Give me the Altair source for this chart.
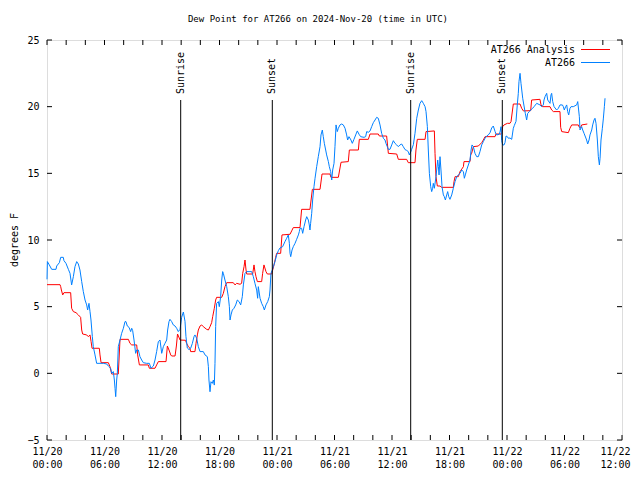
import altair as alt
import pandas as pd

# ---- data (hours since 2024-11-20 00:00 UTC) ----
obs_hours = [0.00, 0.04, 0.24, 0.49, 0.94, 1.01, 1.29, 1.43, 1.70, 1.77, 1.98, 2.23, 2.40, 2.57, 2.75, 2.92, 3.10, 3.27, 3.44, 3.62,
             3.79, 3.97, 4.14, 4.24, 4.38, 4.49, 4.59, 4.73, 4.83, 5.01, 5.18, 5.53, 5.88, 6.23, 6.40, 6.64, 6.75, 6.92, 7.03, 7.10,
             7.17, 7.27, 7.34, 7.44, 7.62, 7.79, 7.97, 8.14, 8.24, 8.38, 8.56, 8.73, 8.84, 8.94, 9.08, 9.25, 9.36, 9.53, 9.70, 9.88,
             10.05, 10.40, 10.68, 10.85, 11.10, 11.27, 11.44, 11.62, 11.79, 11.97, 12.14, 12.31, 12.49, 12.59, 12.73, 12.83, 13.01, 13.18, 13.36, 13.53,
             13.70, 13.88, 14.05, 14.23, 14.40, 14.50, 14.64, 14.82, 14.99, 15.17, 15.34, 15.44, 15.62, 15.79, 15.97, 16.31, 16.49, 16.73, 16.84, 16.90,
             17.01, 17.11, 17.25, 17.36, 17.46, 17.53, 17.60, 17.70, 17.88, 17.98, 18.12, 18.23, 18.33, 18.40, 18.57, 18.75, 18.92, 19.03, 19.10, 19.20,
             19.34, 19.51, 19.69, 19.86, 20.04, 20.21, 20.38, 20.49, 20.66, 20.84, 21.18, 21.36, 21.53, 21.70, 21.88, 21.98, 22.05, 22.23, 22.40, 22.57,
             22.68, 22.85, 23.03, 23.20, 23.27, 23.37, 23.51, 23.62, 23.79, 23.97, 24.14, 24.31, 24.59, 24.83, 25.01, 25.18, 25.29, 25.36, 25.43, 25.57,
             25.70, 25.88, 26.05, 26.23, 26.33, 26.40, 26.57, 26.68, 26.82, 26.99, 27.10, 27.27, 27.37, 27.44, 27.51, 27.62, 27.72, 27.86, 27.97, 28.14,
             28.31, 28.49, 28.59, 28.73, 28.83, 28.94, 29.08, 29.18, 29.36, 29.46, 29.60, 29.71, 29.81, 29.95, 30.05, 30.16, 30.29, 30.40, 30.57, 30.75,
             30.92, 31.10, 31.27, 31.37, 31.51, 31.72, 31.86, 32.03, 32.21, 32.38, 32.56, 32.73, 33.08, 33.25, 33.36, 33.53, 33.71, 33.88, 34.05, 34.23,
             34.40, 34.57, 34.75, 34.92, 35.10, 35.27, 35.37, 35.51, 35.62, 35.79, 35.97, 36.14, 36.31, 36.49, 36.66, 36.83, 37.01, 37.18, 37.36, 37.53,
             37.70, 37.81, 37.95, 38.05, 38.23, 38.40, 38.58, 38.75, 38.92, 39.10, 39.27, 39.45, 39.55, 39.69, 39.79, 39.90, 40.04, 40.14, 40.24, 40.31,
             40.42, 40.59, 40.66, 40.77, 40.84, 40.91, 41.01, 41.11, 41.22, 41.36, 41.46, 41.57, 41.71, 41.81, 41.92, 42.05, 42.23, 42.40, 42.58, 42.75,
             42.92, 43.10, 43.27, 43.45, 43.55, 43.65, 43.79, 44.14, 44.25, 44.35, 44.49, 44.66, 44.84, 45.01, 45.18, 45.36, 45.53, 45.71, 45.88, 46.05,
             46.23, 46.40, 46.57, 46.75, 46.85, 46.92, 47.17, 47.27, 47.38, 47.44, 47.55, 47.69, 47.79, 47.90, 48.04, 48.14, 48.31, 48.49, 48.66, 48.77,
             48.94, 49.08, 49.18, 49.25, 49.36, 49.46, 49.64, 49.91, 50.05, 50.16, 50.33, 50.47, 50.68, 50.82, 51.10, 51.44, 51.62, 51.79, 51.86, 51.97,
             52.14, 52.25, 52.49, 52.59, 52.66, 52.77, 52.91, 53.18, 53.36, 53.53, 53.78, 53.88, 53.98, 54.12, 54.23, 54.33, 54.44, 54.57, 54.68, 54.92,
             55.27, 55.38, 55.55, 55.62, 55.79, 55.90, 56.04, 56.31, 56.42, 56.56, 56.66, 56.84, 56.94, 57.08, 57.18, 57.29, 57.43, 57.53, 57.64, 57.71,
             57.81, 57.95, 58.05, 58.16, 58.23]
obs_values = [7.05, 8.38, 8.13, 7.80, 7.80, 8.05, 8.30, 8.70, 8.70, 8.45, 8.25, 7.80, 7.50, 6.63, 7.25, 8.00, 8.38, 8.20, 7.75, 6.88,
              6.13, 5.50, 5.13, 4.75, 5.25, 4.63, 4.00, 2.75, 2.00, 1.38, 0.75, 0.75, 0.75, 0.70, 0.55, 0.38, 0.00, 0.13, -0.50, -1.13,
              -1.75, -0.50, 0.00, 2.00, 2.50, 3.00, 3.38, 3.88, 3.88, 3.55, 3.45, 3.13, 3.38, 3.20, 2.50, 1.50, 1.75, 1.75, 1.25, 1.00,
              0.80, 0.75, 0.75, 0.38, 0.55, 1.00, 1.63, 2.38, 2.50, 1.50, 2.00, 2.25, 2.50, 3.25, 3.88, 4.05, 3.88, 3.63, 3.55, 3.38,
              3.13, 3.30, 4.20, 4.60, 3.90, 2.75, 1.90, 1.78, 1.88, 2.25, 2.75, 2.88, 2.63, 2.00, 1.63, 1.63, 1.38, 1.25, 0.50, -0.50,
              -1.38, -0.63, -0.75, -0.50, -0.88, 0.75, 3.50, 5.25, 5.38, 5.00, 5.75, 7.00, 7.63, 7.50, 7.00, 6.50, 5.75, 5.00, 4.00, 4.38,
              4.75, 4.88, 5.13, 5.50, 5.38, 5.13, 5.75, 6.63, 7.50, 7.63, 7.63, 7.63, 7.25, 6.75, 6.25, 5.63, 6.50, 5.63, 5.25, 5.00,
              4.75, 5.13, 5.38, 5.75, 6.25, 7.50, 7.75, 8.00, 8.38, 8.88, 9.20, 9.40, 9.50, 9.88, 10.13, 10.38, 9.75, 9.00, 8.75, 9.25,
              9.50, 9.75, 10.05, 10.38, 10.63, 10.88, 10.88, 10.50, 11.00, 11.50, 11.75, 11.50, 11.13, 10.75, 11.25, 12.00, 13.00, 14.00, 14.63, 15.50,
              16.25, 17.00, 17.88, 18.25, 17.75, 17.25, 16.75, 16.38, 15.88, 15.50, 15.13, 14.50, 15.25, 15.75, 17.00, 18.63, 18.13, 18.38, 18.63, 18.70,
              18.63, 18.38, 17.88, 17.50, 17.75, 17.50, 17.25, 17.55, 17.88, 18.18, 17.93, 17.75, 17.70, 17.75, 18.13, 18.08, 18.18, 18.50, 18.80, 19.00,
              19.20, 19.13, 18.63, 18.00, 17.63, 17.50, 17.25, 17.00, 16.80, 16.80, 17.13, 17.45, 17.25, 17.13, 17.00, 17.13, 17.20, 17.00, 16.78, 16.72,
              16.63, 16.38, 16.60, 16.80, 17.15, 18.00, 19.13, 19.75, 20.25, 20.45, 20.25, 20.00, 19.63, 18.50, 16.75, 15.00, 14.00, 13.63, 13.88, 14.25,
              13.88, 14.75, 15.25, 16.00, 15.50, 14.88, 16.25, 15.25, 14.00, 13.38, 13.25, 13.00, 13.38, 13.63, 13.25, 13.05, 13.38, 13.88, 14.38, 14.75,
              14.88, 15.00, 15.25, 15.13, 14.63, 14.88, 15.25, 16.00, 16.75, 17.13, 17.00, 16.50, 16.25, 16.25, 16.63, 17.13, 17.38, 17.63, 17.80, 17.88,
              18.05, 18.40, 18.55, 18.15, 17.95, 17.88, 17.92, 18.10, 18.50, 17.45, 17.13, 17.13, 17.30, 17.80, 17.75, 17.63, 17.65, 17.55, 18.38, 18.60,
              18.90, 20.20, 21.00, 21.88, 22.50, 21.75, 20.63, 19.50, 19.00, 19.50, 19.63, 19.75, 19.88, 20.00, 20.25, 20.13, 20.00, 20.13, 20.50, 20.75,
              21.00, 20.50, 20.25, 20.88, 21.00, 20.38, 20.00, 19.75, 19.88, 20.13, 20.13, 20.00, 19.75, 20.00, 20.13, 19.63, 19.38, 19.88, 20.00, 20.00,
              20.13, 20.38, 19.25, 18.25, 18.50, 18.25, 18.00, 17.50, 17.20, 17.50, 17.88, 18.25, 18.63, 19.00, 19.13, 18.75, 17.50, 16.25, 15.63, 16.13,
              17.50, 18.38, 19.08, 20.00, 20.63]

ana_hours = [0.00, 1.36, 1.43, 1.50, 1.64, 1.77, 2.47, 2.57, 2.75, 3.03, 3.27, 3.51, 3.62, 3.72, 4.14, 4.31, 4.49, 4.60, 4.70, 5.46,
             5.53, 5.64, 6.40, 6.57, 6.75, 7.44, 7.62, 8.49, 8.66, 8.84, 9.36, 9.46, 9.64, 10.57, 10.68, 11.27, 11.44, 11.62, 12.42, 12.56,
             12.73, 12.91, 13.01, 13.36, 13.50, 13.62, 13.80, 13.88, 14.45, 14.57, 14.75, 14.92, 14.99, 15.44, 15.55, 15.69, 15.79, 15.97, 16.14, 16.31,
             16.66, 16.84, 17.01, 17.18, 17.29, 17.46, 17.60, 17.70, 18.23, 18.40, 18.57, 18.75, 19.44, 19.62, 19.79, 20.14, 20.31, 20.42, 20.56, 20.66,
             20.77, 20.84, 21.46, 21.60, 21.70, 21.81, 21.95, 22.40, 22.50, 22.64, 22.85, 22.99, 23.44, 23.55, 23.69, 23.86, 23.96, 24.38, 24.52, 25.36,
             25.53, 25.70, 26.40, 26.57, 27.44, 27.69, 28.49, 28.70, 29.53, 29.63, 30.40, 30.68, 31.44, 31.55, 32.49, 32.59, 33.53, 33.71, 34.57, 34.68,
             35.44, 35.62, 36.49, 36.66, 37.53, 37.70, 38.40, 38.50, 38.64, 39.45, 39.55, 40.42, 40.49, 40.59, 40.73, 41.01, 41.18, 42.40, 42.47, 42.58,
             42.92, 43.10, 43.45, 43.51, 44.14, 44.21, 44.31, 44.49, 45.01, 45.36, 45.53, 45.71, 46.75, 46.85, 47.44, 47.55, 47.69, 48.04, 48.31, 48.42,
             48.55, 48.66, 49.36, 49.53, 49.71, 50.47, 50.57, 51.44, 51.55, 51.69, 52.49, 52.66, 52.84, 53.53, 53.60, 53.71, 54.40, 54.57, 54.75, 55.44,
             55.55, 55.70, 55.79, 56.38]
ana_values = [6.65, 6.65, 6.50, 6.25, 5.88, 6.05, 6.05, 4.88, 4.63, 4.55, 4.38, 4.20, 3.25, 2.95, 2.88, 2.75, 2.88, 2.38, 1.88, 1.88,
              1.38, 0.80, 0.80, 0.50, -0.05, -0.05, 2.55, 2.55, 2.25, 2.13, 2.13, 1.38, 0.63, 0.63, 0.38, 0.38, 0.63, 0.88, 0.88, 2.05,
              1.75, 1.38, 1.30, 1.30, 2.05, 2.95, 2.65, 2.50, 2.48, 2.25, 2.00, 1.88, 1.63, 1.63, 2.25, 2.88, 3.25, 3.55, 3.63, 3.50,
              3.30, 3.25, 3.50, 3.80, 4.25, 4.88, 5.50, 5.70, 5.70, 6.00, 6.50, 6.80, 6.80, 6.63, 6.75, 6.68, 6.75, 7.50, 8.00, 8.50,
              7.75, 7.45, 7.45, 8.13, 7.63, 7.25, 6.88, 6.88, 7.50, 8.13, 7.63, 7.45, 7.45, 7.75, 8.13, 8.70, 9.00, 9.00, 10.38, 10.43,
              10.68, 10.93, 10.93, 12.30, 12.30, 13.80, 13.80, 14.95, 14.95, 14.70, 14.70, 15.83, 15.88, 16.75, 16.75, 17.55, 17.55, 17.95, 17.95, 17.80,
              17.80, 16.50, 16.45, 16.05, 16.05, 15.80, 15.80, 16.75, 17.55, 17.55, 18.13, 18.18, 16.50, 14.75, 14.05, 14.05, 13.95, 13.95, 14.38, 14.75,
              14.75, 15.13, 15.50, 15.88, 15.88, 16.38, 16.50, 17.00, 17.05, 17.30, 17.50, 17.75, 17.75, 17.95, 17.95, 18.50, 18.63, 18.75, 18.75, 18.88,
              19.60, 20.20, 20.20, 19.88, 19.68, 19.70, 20.50, 20.55, 20.13, 20.00, 20.00, 19.75, 19.63, 19.63, 18.45, 18.13, 18.05, 18.38, 18.63, 18.63,
              18.45, 18.45, 18.63, 18.70]

series_names = ["AT266 Analysis", "AT266"]
series_colors = ["#ff0000", "#0080ff"]

event_names = ["Sunrise", "Sunset", "Sunrise", "Sunset"]
event_hours = [13.95, 23.51, 37.95, 47.51]

x_tick_hours = list(range(0, 61, 2))
x_label_hours = list(range(0, 61, 6))
y_ticks = [-5, 0, 5, 10, 15, 20, 25]

title_text = "Dew Point for AT266 on 2024-Nov-20 (time in UTC)"
y_title = "degrees F"

FONT = "DejaVu Sans Mono"
FS = 10
W, H = 575, 400

df = pd.concat([
    pd.DataFrame({"hours": ana_hours, "value": ana_values, "series": series_names[0], "order": range(len(ana_hours))}),
    pd.DataFrame({"hours": obs_hours, "value": obs_values, "series": series_names[1], "order": range(len(obs_hours))}),
])
events = pd.DataFrame({"name": event_names, "hours": event_hours})
xt = pd.DataFrame({"hours": x_tick_hours})
yt = pd.DataFrame({"value": y_ticks})

xscale = alt.Scale(domain=[0, 60], nice=False, zero=False)
yscale = alt.Scale(domain=[-5, 25], nice=False, zero=False)

label_expr = ("['11/' + (20 + floor(datum.value / 24)), "
              "((datum.value % 24) < 10 ? '0' : '') + (datum.value % 24) + ':00']")

x_enc = alt.X("hours:Q", scale=xscale, title=None,
              axis=alt.Axis(values=x_label_hours, labelExpr=label_expr, ticks=False, domain=False,
                            grid=False, labelPadding=6, labelFont=FONT, labelFontSize=FS,
                            labelColor="black", labelLineHeight=13, labelFlush=False,
                            labelOffset={"condition": {"test": "datum.value == 60", "value": -7}, "value": 0}))
y_enc = alt.Y("value:Q", scale=yscale, title=None,
              axis=alt.Axis(values=y_ticks, ticks=False, domain=False, grid=False, labelPadding=8,
                            labelFont=FONT, labelFontSize=FS, labelColor="black"))

lines = []
for name, color in zip(series_names, series_colors):
    lines.append(
        alt.Chart(df[df.series == name]).mark_line(color=color, strokeWidth=1, interpolate="linear")
        .encode(x=x_enc, y=y_enc, order="order:Q")
    )

ev_rule = alt.Chart(events).mark_rule(color="black", strokeWidth=1).encode(
    x=alt.X("hours:Q", scale=xscale), y=alt.value(60), y2=alt.value(H))
ev_text = alt.Chart(events).mark_text(angle=270, align="left", baseline="middle",
                                      font=FONT, fontSize=FS, color="black").encode(
    x=alt.X("hours:Q", scale=xscale), y=alt.value(54), text="name:N")

xtick_b = alt.Chart(xt).mark_rule(color="black").encode(
    x=alt.X("hours:Q", scale=xscale), y=alt.value(H), y2=alt.value(H - 5))
xtick_t = alt.Chart(xt).mark_rule(color="black").encode(
    x=alt.X("hours:Q", scale=xscale), y=alt.value(0), y2=alt.value(5))
ytick_l = alt.Chart(yt).mark_rule(color="black").encode(
    y=alt.Y("value:Q", scale=yscale), x=alt.value(0), x2=alt.value(5))
ytick_r = alt.Chart(yt).mark_rule(color="black").encode(
    y=alt.Y("value:Q", scale=yscale), x=alt.value(W), x2=alt.value(W - 5))

title = alt.Chart(pd.DataFrame({"t": [title_text]})).mark_text(
    font=FONT, fontSize=9, color="black", align="center", baseline="middle").encode(
    text="t:N", x=alt.value(271), y=alt.value(-21))
ytitle = alt.Chart(pd.DataFrame({"t": [y_title]})).mark_text(
    font=FONT, fontSize=FS, color="black", align="center", baseline="middle", angle=270).encode(
    text="t:N", x=alt.value(-32), y=alt.value(H / 2))

legend_layers = []
for i, (name, color) in enumerate(zip(series_names, series_colors)):
    ly = 10 + 13 * i
    ldf = pd.DataFrame({"name": [name]})
    legend_layers.append(alt.Chart(ldf).mark_text(
        font=FONT, fontSize=FS, color="black", align="right", baseline="middle").encode(
        text="name:N", x=alt.value(528), y=alt.value(ly)))
    legend_layers.append(alt.Chart(ldf).mark_rule(color=color, strokeWidth=1).encode(
        x=alt.value(534), x2=alt.value(563), y=alt.value(ly - 0.5)))

chart = alt.layer(
    *lines, ev_rule, ev_text, xtick_b, xtick_t, ytick_l, ytick_r, title, ytitle, *legend_layers
).properties(
    width=W, height=H,
    autosize=alt.AutoSizeParams(type="none"),
    padding={"left": 39, "top": 32, "right": 10, "bottom": 32},
).configure_view(stroke="black", strokeWidth=1).configure(background="white")

chart.save("out.html", embed_options={"renderer": "svg", "actions": False})
